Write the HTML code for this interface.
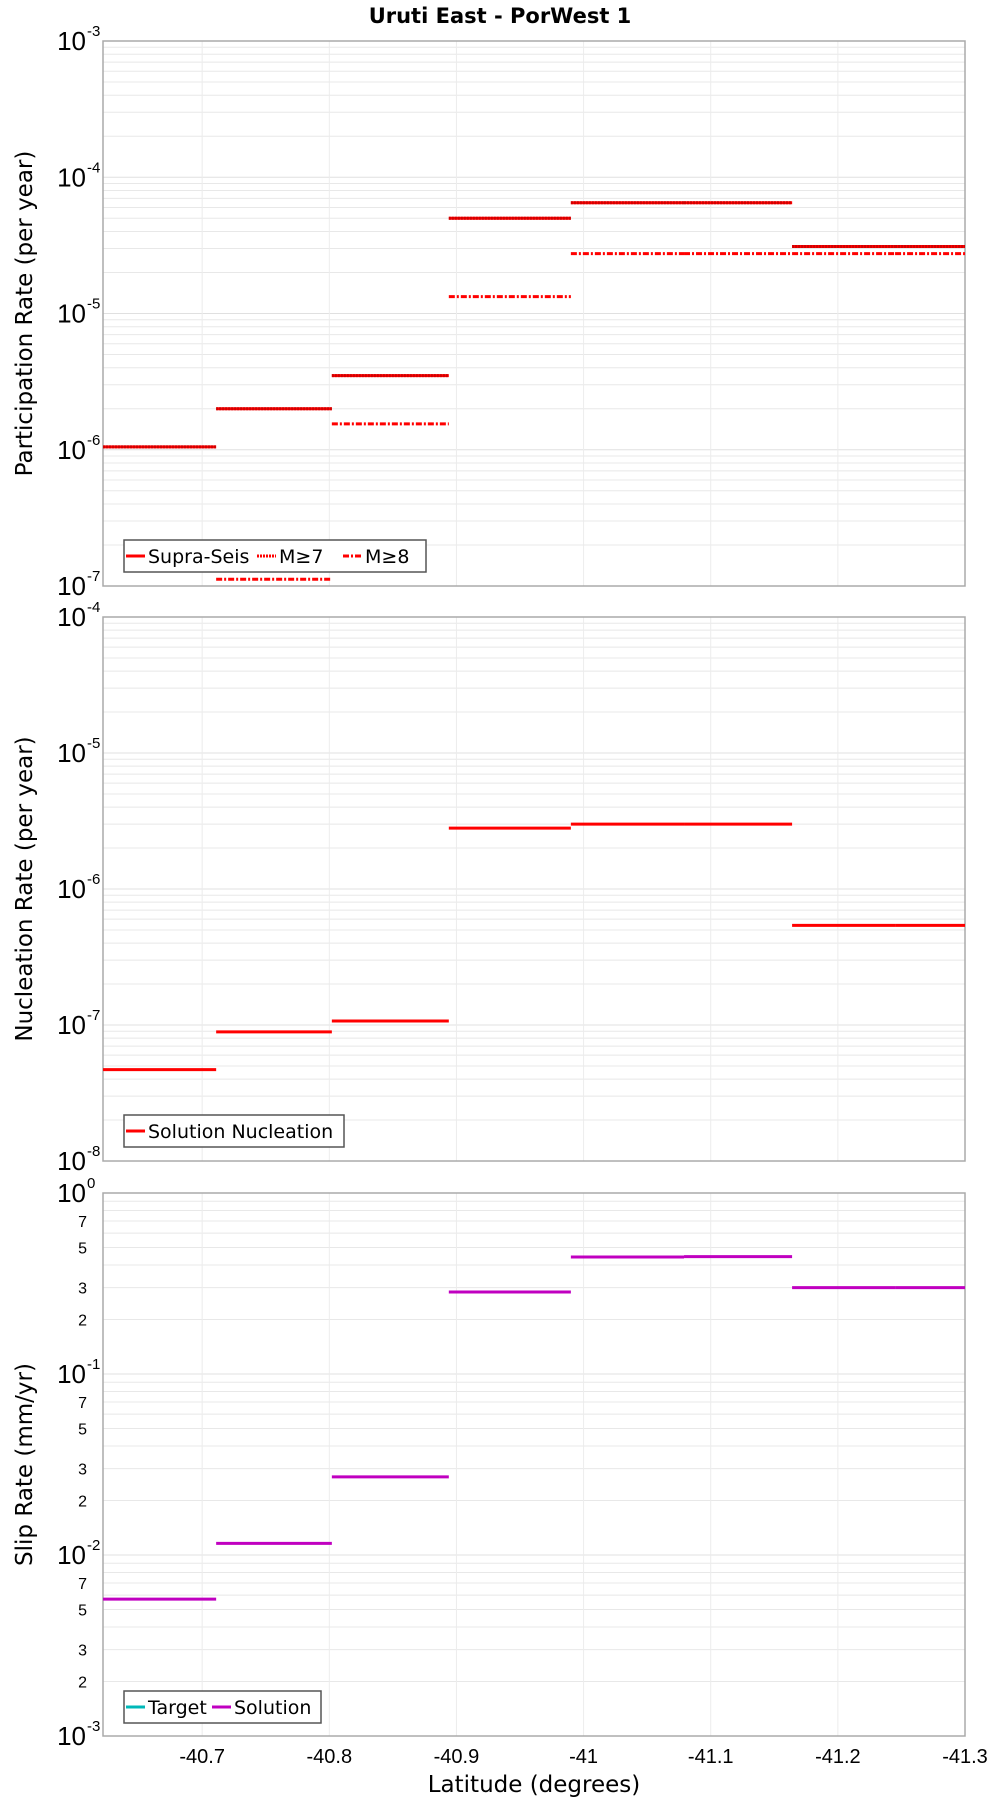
<!DOCTYPE html>
<html><head><meta charset="utf-8"><style>
body{margin:0;background:#fff;}
svg{display:block;font-family:"Liberation Sans","DejaVu Sans",sans-serif;}
</style></head><body>
<svg id="chart" width="1000" height="1800" viewBox="0 0 1000 1800" xmlns="http://www.w3.org/2000/svg">
<text x="500" y="23" text-anchor="middle" font-size="21" font-weight="bold" font-family="DejaVu Sans, sans-serif">Uruti East - PorWest 1</text>
<text x="534" y="1792" text-anchor="middle" font-size="23" font-family="DejaVu Sans, sans-serif">Latitude (degrees)</text>
</svg>
<script>
const boundaries = [-40.622, -40.711, -40.802, -40.894, -40.990, -41.079, -41.164, -41.245, -41.3];
const xTicks = [-40.7, -40.8, -40.9, -41, -41.1, -41.2, -41.3];
const xTickLabels = ["-40.7", "-40.8", "-40.9", "-41", "-41.1", "-41.2", "-41.3"];
const supraSeis = [1.05e-6, 2.0e-6, 3.5e-6, 5.0e-5, 6.5e-5, 6.5e-5, 3.1e-5, 3.1e-5];
const m7 = [1.05e-6, 2.0e-6, 3.5e-6, 5.0e-5, 6.5e-5, 6.5e-5, 3.1e-5, 3.1e-5];
const m8 = [null, 1.12e-7, 1.55e-6, 1.33e-5, 2.75e-5, 2.75e-5, 2.75e-5, 2.75e-5];
const nucleation = [4.7e-8, 8.9e-8, 1.07e-7, 2.8e-6, 3.0e-6, 3.0e-6, 5.4e-7, 5.4e-7];
const slipSolution = [5.7e-3, 1.16e-2, 2.7e-2, 0.284, 0.443, 0.445, 0.30, 0.30];

const NS = "http://www.w3.org/2000/svg";
const svg = document.getElementById("chart");
const X0 = 103, X1 = 965;
const xMin = -40.622, xMax = -41.3;
function xs(v){ return X0 + (v - xMin) / (xMax - xMin) * (X1 - X0); }
function mk(tag, attrs, parent){
  const e = document.createElementNS(NS, tag);
  for (const k in attrs) e.setAttribute(k, attrs[k]);
  (parent || svg).appendChild(e);
  return e;
}
function panel(name, top, bot, eMin, eMax, title, minorLabels){
  const g = mk("g", {});
  
  
  const ys = v => bot - (Math.log10(v) - eMin) / (eMax - eMin) * (bot - top);
  for (let e = eMin; e < eMax; e++) {
    for (let m = 2; m <= 9; m++) {
      const y = ys(m * Math.pow(10, e));
      const l = mk("line", {x1: X0, x2: X1, y1: y, y2: y, stroke: "#e8e8e8", "stroke-width": 1}, g);
      
      
      if (minorLabels && [2,3,5,7].includes(m)) {
        const t = mk("text", {x: 87, y: y + 6, "text-anchor": "end", "font-size": 16}, g);
        
        
        t.textContent = String(m);
      }
    }
  }
  for (let e = eMin; e <= eMax; e++) {
    const y = ys(Math.pow(10, e));
    const l = mk("line", {x1: X0, x2: X1, y1: y, y2: y, stroke: "#e0e0e0", "stroke-width": 1}, g);
    
    
    const t = mk("text", {x: 86, y: y + 9, "text-anchor": "end", "font-size": 26}, g);
    
    
    t.textContent = "10";
    const s = mk("text", {x: 87, y: y - 5, "text-anchor": "start", "font-size": 15}, g);
    
    
    s.textContent = String(e);
  }
  xTicks.forEach(v => {
    const l = mk("line", {x1: xs(v), x2: xs(v), y1: top, y2: bot, stroke: "#ececec", "stroke-width": 1}, g);
    
    
  });
  const r = mk("rect", {x: X0, y: top, width: X1 - X0, height: bot - top, fill: "none", stroke: "#aaa", "stroke-width": 1.5}, g);
  
  
  const cy = (top + bot) / 2;
  const yt = mk("text", {x: 0, y: 0, "text-anchor": "middle", "font-size": 23, "font-family": "DejaVu Sans, sans-serif", transform: `translate(32,${cy}) rotate(-90)`}, g);
  
  
  yt.textContent = title;
  return {g, ys};
}
function steps(p, vals, color, dash, name){
  vals.forEach((v, i) => {
    if (v == null) return;
    const a = {x1: xs(boundaries[i]), x2: xs(boundaries[i+1]), y1: p.ys(v), y2: p.ys(v), stroke: color, "stroke-width": 3};
    if (dash) a["stroke-dasharray"] = dash;
    const l = mk("line", a, p.g);
    
    
  });
}
function legend(p, x, y, w, items){
  const lg = mk("g", {}, p.g);
  
  
  const r = mk("rect", {x: x, y: y, width: w, height: 32, fill: "#fff", stroke: "#555", "stroke-width": 1.5}, lg);
  
  
  items.forEach(it => {
    const l = mk("line", {x1: it.sx, x2: it.sx + 19, y1: y + 16, y2: y + 16, stroke: it.c, "stroke-width": 3}, lg);
    if (it.d) l.setAttribute("stroke-dasharray", it.d);
    
    
    const t = mk("text", {x: it.sx + 22, y: y + 23, "font-size": 19, "font-family": "DejaVu Sans, sans-serif"}, lg);
    
    
    t.textContent = it.t;
  });
}
const p1 = panel("participation", 41, 586, -7, -3, "Participation Rate (per year)", false);
steps(p1, supraSeis, "#ff0000", null, "supra-seis");
steps(p1, m7, "#d00000", "2,1", "m7");
steps(p1, m8, "#ff0000", "6,2,2,2", "m8");
legend(p1, 124, 540, 302, [{c:"#f00",t:"Supra-Seis",sx:126},{c:"#f00",d:"2,1",t:"M≥7",sx:257},{c:"#f00",d:"6,2,2,2",t:"M≥8",sx:343}]);

const p2 = panel("nucleation", 617, 1161, -8, -4, "Nucleation Rate (per year)", false);
steps(p2, nucleation, "#ff0000", null, "nucleation");
legend(p2, 124, 1115, 220, [{c:"#f00",t:"Solution Nucleation",sx:126}]);

const p3 = panel("slip-rate", 1193, 1736, -3, 0, "Slip Rate (mm/yr)", true);
steps(p3, slipSolution, "#c000c0", null, "slip-solution");
legend(p3, 124, 1691, 197, [{c:"#00b8b8",t:"Target",sx:126},{c:"#c000c0",t:"Solution",sx:212}]);

xTicks.forEach((v, i) => {
  const t = mk("text", {x: xs(v), y: 1763, "text-anchor": "middle", "font-size": 20});
  
  
  t.textContent = xTickLabels[i];
});
</script>
</body></html>
